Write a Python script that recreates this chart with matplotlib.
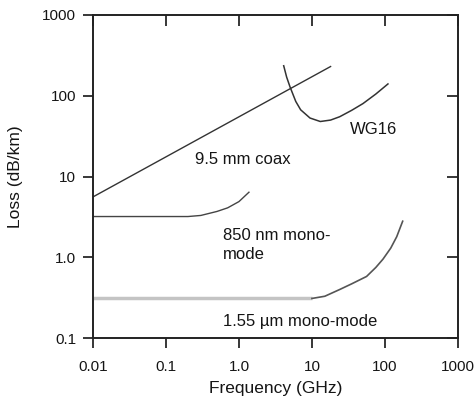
import matplotlib.pyplot as plt

plt.rcParams['font.family'] = ['Liberation Sans', 'DejaVu Sans']

# coax: straight line on log-log axes
coax_f = [0.01, 18]
coax_loss = [5.6, 230]

# WG16 waveguide
wg16_f = [4.1, 4.5, 5.0, 6.0, 7.0, 9.4, 13, 18, 24, 35, 50, 75, 110]
wg16_loss = [235, 170, 129, 85, 67, 53, 48, 50, 55, 66, 80, 105, 140]

# 850 nm mono-mode fibre
f850 = [0.01, 0.2, 0.3, 0.5, 0.7, 1.0, 1.37]
loss850 = [3.2, 3.2, 3.3, 3.7, 4.1, 4.9, 6.4]

# 1.55 um mono-mode fibre (flat part + rising part)
f1550_flat = [0.01, 10]
loss1550_flat = [0.31, 0.31]
f1550_rise = [10, 15, 24, 35, 56, 75, 94, 120, 145, 175]
loss1550_rise = [0.31, 0.33, 0.40, 0.47, 0.58, 0.75, 0.95, 1.3, 1.8, 2.8]

xticks = [0.01, 0.1, 1, 10, 100, 1000]
xticklabels = ['0.01', '0.1', '1.0', '10', '100', '1000']
yticks = [0.1, 1, 10, 100, 1000]
yticklabels = ['0.1', '1.0', '10', '100', '1000']

txt = '#151515'

fig = plt.figure(figsize=(4.77, 4.04), dpi=100)
ax = fig.add_axes([0.195, 0.163, 0.765, 0.80])

ax.plot(coax_f, coax_loss, color='#333333', lw=1.0)
ax.plot(wg16_f, wg16_loss, color='#333333', lw=1.1)
ax.plot(f850, loss850, color='#444444', lw=1.0)
ax.plot(f1550_flat, loss1550_flat, color='#c4c4c4', lw=2.5, solid_capstyle='butt')
ax.plot(f1550_rise, loss1550_rise, color='#555555', lw=1.2)

ax.set_xscale('log')
ax.set_yscale('log')
ax.set_xlim(0.01, 1000)
ax.set_ylim(0.1, 1000)

ax.set_xticks(xticks)
ax.set_xticklabels(xticklabels)
ax.set_yticks(yticks)
ax.set_yticklabels(yticklabels)
ax.minorticks_off()
ax.tick_params(axis='both', which='major', direction='out', length=7, width=1.2,
               labelsize=11, colors=txt)
ax.tick_params(axis='x', pad=9)
ax.tick_params(axis='y', pad=5)
ax.tick_params(top=True, right=True)

for s in ax.spines.values():
    s.set_linewidth(1.4)
    s.set_color('#222222')

# inward ticks on top and right
for t in ax.xaxis.get_major_ticks():
    t.tick2line.set_marker(3)
    t.tick2line.set_markersize(8)
for t in ax.yaxis.get_major_ticks():
    t.tick2line.set_marker(0)
    t.tick2line.set_markersize(8)

ax.set_xlabel('Frequency (GHz)', fontsize=12.5, color=txt, labelpad=5)
ax.set_ylabel('Loss (dB/km)', fontsize=12.5, color=txt, labelpad=14)

ax.text(0.25, 16.3, '9.5 mm coax', fontsize=12, color=txt, va='center')
ax.text(33, 38, 'WG16', fontsize=12, color=txt, va='center')
ax.text(0.60, 1.41, '850 nm mono-\nmode', fontsize=12, color=txt, va='center',
        linespacing=1.3)
ax.text(0.60, 0.162, '1.55 µm mono-mode', fontsize=12, color=txt, va='center')

fig.savefig('out.png', dpi=100)
